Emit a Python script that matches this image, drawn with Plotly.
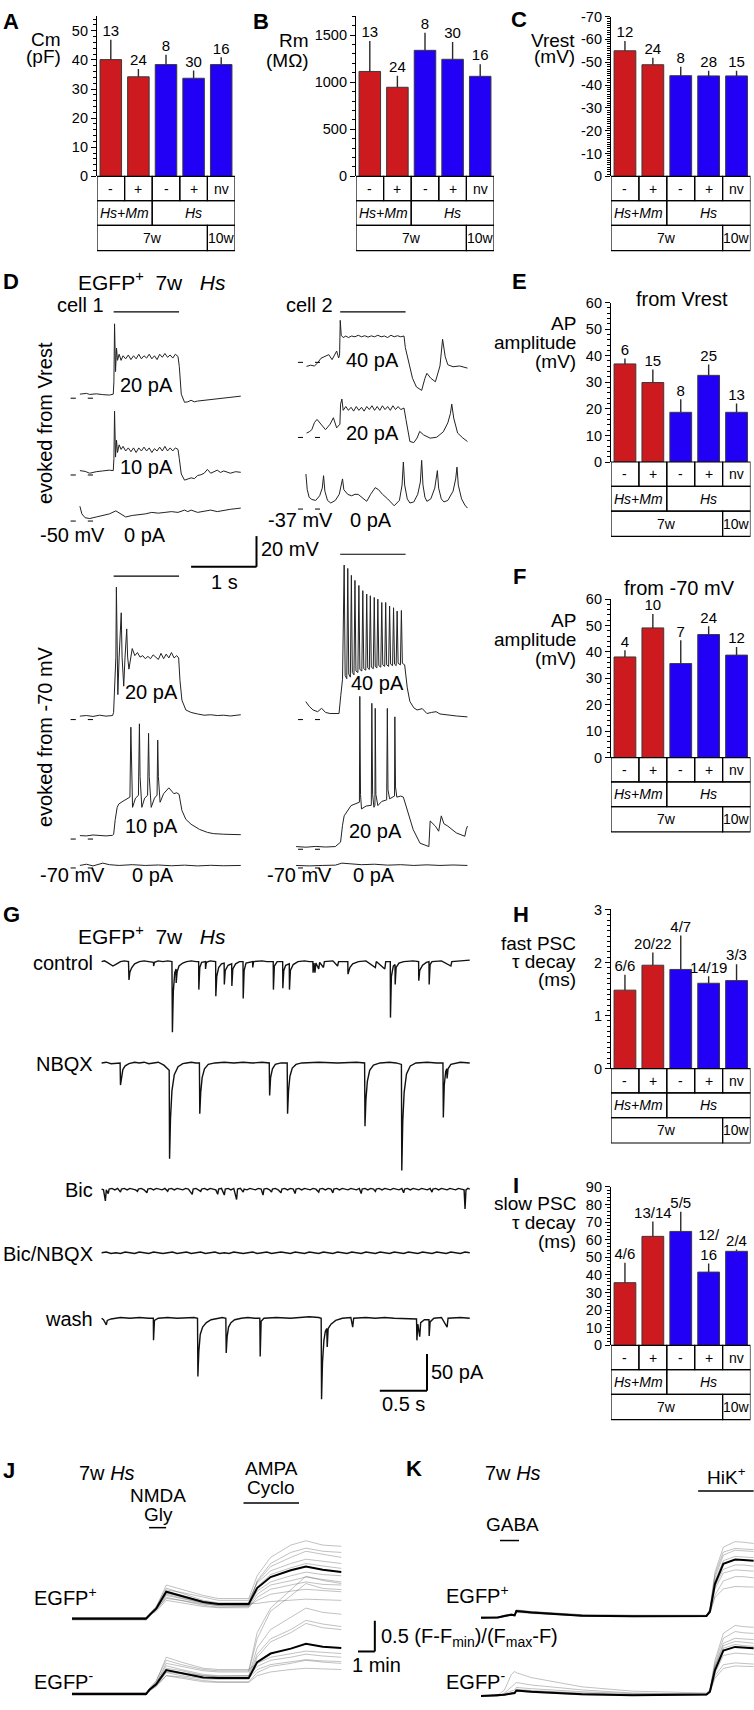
import plotly.graph_objects as go

W, H = 754, 1710
FONT = "Liberation Sans, Arial, sans-serif"

# ---------------- bar panels ----------------
GROUP_SIGN = ["-", "+", "-", "+", "nv"]
SPECIES = ["<i>Hs+Mm</i>", "<i>Hs</i>"]
SPECIES_SPAN = [2, 3]
AGE = ["7w", "10w"]
AGE_SPAN = [4, 1]
BAR_COLORS = ["#cc1a1e", "#cc1a1e", "#2200f5", "#2200f5", "#2200f5"]

CM_MEAN = [40.1, 34.2, 38.4, 33.7, 38.4]
CM_SEM = [6.8, 2.7, 3.4, 2.7, 2.5]
CM_N = ["13", "24", "8", "30", "16"]

RM_MEAN = [1114, 946, 1338, 1243, 1062]
RM_SEM = [323, 123, 186, 183, 129]
RM_N = ["13", "24", "8", "30", "16"]

VREST_MEAN = [-55.0, -48.9, -44.1, -44.0, -44.0]
VREST_SEM = [4.3, 3.1, 3.9, 2.3, 2.3]
VREST_N = ["12", "24", "8", "28", "15"]

AP_VREST_MEAN = [36.9, 29.9, 18.7, 32.6, 18.7]
AP_VREST_SEM = [2.0, 4.9, 4.9, 4.1, 3.3]
AP_VREST_N = ["6", "15", "8", "25", "13"]

AP_70_MEAN = [38.1, 49.1, 35.6, 46.6, 38.8]
AP_70_SEM = [2.5, 5.3, 8.8, 3.1, 3.1]
AP_70_N = ["4", "10", "7", "24", "12"]

FAST_TAU_MEAN = [1.48, 1.95, 1.87, 1.61, 1.66]
FAST_TAU_SEM = [0.29, 0.24, 0.64, 0.13, 0.31]
FAST_TAU_N = ["6/6", "20/22", "4/7", "14/19", "3/3"]

SLOW_TAU_MEAN = [35.6, 61.9, 64.7, 41.6, 53.4]
SLOW_TAU_SEM = [11.3, 8.4, 11.2, 4.9, 1.0]
SLOW_TAU_N = ["4/6", "13/14", "5/5", "12/<br>16", "2/4"]

# ---------------- D: current-clamp traces, (time s, Vm mV) ----------------
CELL1_VREST_20PA = [
    (0.00, -48.0), (0.10, -47.5), (0.15, -48.2), (0.25, -47.8), (0.35, -48.3), (0.45, -48.6), (0.51, -48.0),
    (0.52, -40.0), (0.53, -2.2), (0.545, -33.3), (0.56, -18.0), (0.575, -26.0), (0.60, -22.0), (0.63, -26.0),
    (0.66, -23.0), (0.70, -25.0), (0.74, -22.5), (0.78, -25.5), (0.82, -23.0), (0.86, -25.0), (0.90, -22.0),
    (0.94, -25.0), (0.98, -23.0), (1.02, -24.5), (1.06, -22.0), (1.10, -25.0), (1.14, -23.0), (1.18, -25.5),
    (1.22, -22.0), (1.26, -24.0), (1.30, -21.5), (1.34, -24.0), (1.38, -22.5), (1.42, -24.5), (1.46, -22.0),
    (1.50, -23.5), (1.52, -30.0), (1.55, -48.0), (1.60, -53.3), (1.65, -53.0), (1.70, -52.0), (1.75, -53.0),
    (1.80, -52.5), (1.90, -52.0), (2.00, -51.8), (2.10, -51.2), (2.20, -50.8), (2.30, -50.2), (2.40, -49.6),
    (2.46, -49.3)]
CELL1_VREST_10PA = [
    (0.00, -47.8), (0.08, -48.3), (0.15, -49.5), (0.25, -48.5), (0.35, -48.0), (0.45, -47.5), (0.51, -47.8),
    (0.52, -40.0), (0.53, -9.0), (0.545, -39.0), (0.56, -28.0), (0.575, -36.0), (0.60, -31.0), (0.63, -34.0),
    (0.66, -32.0), (0.70, -35.0), (0.74, -33.0), (0.78, -35.5), (0.82, -33.0), (0.86, -36.0), (0.90, -33.0),
    (0.94, -35.0), (0.98, -32.5), (1.02, -35.0), (1.06, -33.0), (1.10, -36.0), (1.14, -33.5), (1.18, -35.0),
    (1.22, -32.5), (1.26, -35.0), (1.30, -32.0), (1.34, -35.0), (1.38, -33.0), (1.42, -35.0), (1.46, -33.0),
    (1.50, -34.0), (1.52, -40.0), (1.55, -50.0), (1.60, -54.0), (1.65, -53.5), (1.70, -52.5), (1.75, -53.0),
    (1.80, -51.0), (1.85, -50.5), (1.90, -49.5), (1.95, -47.0), (2.00, -49.5), (2.05, -48.5), (2.10, -47.5),
    (2.15, -49.0), (2.20, -48.0), (2.30, -49.5), (2.38, -48.5), (2.46, -48.9)]
CELL1_VREST_0PA = [
    (0.00, -41.0), (0.03, -46.0), (0.08, -48.5), (0.15, -49.0), (0.25, -48.0), (0.35, -47.0), (0.45, -46.0),
    (0.55, -44.0), (0.60, -45.5), (0.65, -47.0), (0.70, -48.0), (0.80, -47.0), (0.90, -46.5), (1.00, -46.0),
    (1.10, -45.0), (1.20, -45.5), (1.30, -45.0), (1.40, -44.5), (1.50, -45.0), (1.60, -43.5), (1.65, -44.5),
    (1.70, -43.5), (1.80, -45.0), (1.90, -44.0), (2.00, -43.5), (2.10, -44.5), (2.20, -43.5), (2.30, -43.0),
    (2.40, -42.5), (2.46, -42.2)]
CELL2_VREST_40PA = [
    (0.16, -40.3), (0.22, -39.5), (0.28, -40.0), (0.33, -38.0), (0.38, -35.0), (0.45, -33.5), (0.50, -32.6),
    (0.55, -35.9), (0.59, -32.0), (0.62, -30.3), (0.65, -34.8), (0.665, -33.0), (0.675, -10.3), (0.69, -20.0),
    (0.72, -21.5), (0.76, -20.5), (0.80, -21.5), (0.85, -20.5), (0.90, -21.0), (0.95, -20.0), (1.00, -21.0),
    (1.05, -20.3), (1.10, -21.2), (1.15, -20.4), (1.20, -21.0), (1.25, -20.0), (1.30, -21.0), (1.35, -20.5),
    (1.40, -21.5), (1.45, -20.0), (1.50, -21.0), (1.55, -20.3), (1.60, -21.0), (1.65, -20.5), (1.67, -28.0),
    (1.72, -38.0), (1.78, -48.0), (1.84, -53.7), (1.92, -55.9), (1.97, -48.0), (2.00, -44.8), (2.06, -48.0),
    (2.13, -50.3), (2.20, -40.0), (2.24, -22.6), (2.28, -34.0), (2.32, -39.2), (2.40, -40.5), (2.50, -40.0),
    (2.62, -41.4)]
CELL2_VREST_20PA = [
    (0.16, -34.8), (0.20, -34.0), (0.24, -32.6), (0.28, -28.0), (0.32, -25.9), (0.38, -29.0), (0.45, -32.6),
    (0.52, -29.0), (0.57, -24.8), (0.62, -31.4), (0.67, -29.0), (0.68, -16.0), (0.70, -12.6), (0.72, -20.0),
    (0.76, -17.5), (0.80, -20.0), (0.84, -18.0), (0.88, -20.5), (0.92, -17.5), (0.96, -20.0), (1.00, -18.0),
    (1.04, -20.5), (1.08, -17.5), (1.12, -19.5), (1.16, -17.0), (1.20, -20.0), (1.24, -17.5), (1.28, -20.0),
    (1.32, -17.0), (1.36, -19.5), (1.40, -17.5), (1.44, -20.0), (1.48, -17.0), (1.52, -19.5), (1.56, -17.5),
    (1.60, -19.5), (1.65, -18.5), (1.68, -26.0), (1.74, -40.3), (1.80, -41.0), (1.85, -38.0), (1.89, -33.7),
    (1.95, -36.0), (2.05, -38.1), (2.15, -37.5), (2.25, -34.0), (2.32, -28.1), (2.36, -22.0), (2.38, -15.9),
    (2.41, -25.0), (2.47, -34.8), (2.55, -38.0), (2.62, -40.3)]
CELL2_VREST_0PA = [
    (0.15, -14.8), (0.17, -25.0), (0.20, -30.0), (0.24, -31.4), (0.30, -32.0), (0.36, -29.0), (0.40, -24.0),
    (0.42, -15.9), (0.44, -26.0), (0.48, -32.0), (0.53, -33.7), (0.60, -32.0), (0.66, -28.0), (0.69, -22.0),
    (0.71, -18.0), (0.73, -25.0), (0.79, -28.1), (0.85, -29.0), (0.90, -28.0), (0.95, -28.1), (1.00, -30.0),
    (1.08, -32.6), (1.14, -28.0), (1.21, -23.7), (1.26, -25.0), (1.32, -28.0), (1.40, -31.0), (1.50, -35.5),
    (1.58, -32.0), (1.62, -22.0), (1.64, -7.0), (1.66, -22.0), (1.70, -31.0), (1.74, -33.7), (1.80, -33.0),
    (1.86, -28.0), (1.90, -20.0), (1.92, -5.9), (1.94, -22.0), (1.97, -30.0), (2.00, -32.6), (2.06, -31.0),
    (2.12, -24.0), (2.16, -12.6), (2.18, -24.0), (2.22, -31.0), (2.26, -33.0), (2.32, -32.0), (2.40, -26.0),
    (2.44, -18.0), (2.46, -10.3), (2.48, -22.0), (2.53, -31.0), (2.58, -35.0), (2.62, -37.0)]
CELL1_70_20PA = [
    (0.00, -68.4), (0.10, -68.0), (0.20, -68.6), (0.30, -67.8), (0.40, -68.4), (0.50, -68.0), (0.515, -66.0),
    (0.53, -50.0), (0.55, -30.0), (0.558, 15.6), (0.57, -25.0), (0.58, -54.4), (0.60, -30.0), (0.632, -1.1),
    (0.645, -30.0), (0.67, -48.9), (0.69, -30.0), (0.716, -11.6), (0.73, -30.0), (0.75, -37.8), (0.80, -24.4),
    (0.84, -29.0), (0.88, -27.0), (0.92, -30.0), (0.96, -29.0), (1.00, -31.0), (1.04, -29.5), (1.08, -31.0),
    (1.12, -28.5), (1.16, -30.0), (1.20, -31.5), (1.24, -27.5), (1.28, -31.0), (1.32, -28.0), (1.36, -30.5),
    (1.40, -27.0), (1.44, -30.5), (1.48, -29.0), (1.51, -30.5), (1.53, -45.0), (1.56, -58.0), (1.62, -64.4),
    (1.70, -66.0), (1.80, -67.0), (1.90, -67.8), (2.00, -67.5), (2.10, -68.0), (2.20, -67.8), (2.30, -68.3),
    (2.40, -67.8), (2.46, -67.5)]
CELL1_70_10PA = [
    (0.00, -68.4), (0.10, -68.6), (0.20, -68.0), (0.30, -68.3), (0.40, -68.6), (0.50, -68.2), (0.516, -67.5),
    (0.54, -58.0), (0.57, -50.0), (0.595, -47.8), (0.635, -46.5), (0.674, -45.6), (0.72, -44.5), (0.765, -43.3),
    (0.779, 2.2), (0.79, -30.0), (0.805, -50.0), (0.85, -44.0), (0.895, -42.2), (0.91, 4.4), (0.92, -30.0),
    (0.947, -50.0), (0.99, -44.0), (1.035, -42.2), (1.05, -1.8), (1.06, -30.0), (1.09, -50.0), (1.14, -44.0),
    (1.18, -42.0), (1.19, -6.2), (1.20, -30.0), (1.226, -46.7), (1.28, -41.1), (1.36, -37.3), (1.40, -39.5),
    (1.437, -41.1), (1.48, -40.5), (1.516, -41.5), (1.56, -52.0), (1.62, -57.8), (1.70, -61.0), (1.83, -64.4),
    (1.95, -66.3), (2.04, -67.1), (2.20, -67.5), (2.35, -67.8), (2.46, -67.8)]
CELL1_70_0PA = [
    (0.00, -69.0), (0.10, -68.2), (0.20, -69.3), (0.30, -68.0), (0.35, -67.5), (0.45, -68.5), (0.60, -69.0),
    (0.80, -68.5), (1.00, -69.0), (1.20, -68.7), (1.40, -69.2), (1.60, -68.8), (1.80, -69.3), (2.00, -68.9),
    (2.20, -69.2), (2.46, -69.0)]
CELL2_70_40PA = [
    (0.147, -58.9), (0.20, -62.0), (0.26, -64.4), (0.33, -65.5), (0.39, -63.3), (0.45, -66.0), (0.52, -66.7),
    (0.60, -66.7), (0.656, -66.7), (0.683, -55.0), (0.71, -44.4), (0.735, 30.0), (0.75, -42.0), (0.775, -44.0),
    (0.79, 27.8), (0.805, -41.0), (0.83, -43.0), (0.845, 23.3), (0.86, -40.0), (0.885, -41.5), (0.90, 20.0),
    (0.915, -39.0), (0.945, -40.0), (0.96, 16.7), (0.975, -38.0), (1.005, -39.0), (1.02, 13.3), (1.035, -37.5),
    (1.065, -38.5), (1.08, 11.1), (1.095, -37.0), (1.12, -38.0), (1.135, 10.0), (1.15, -36.5), (1.18, -37.5),
    (1.195, 8.9), (1.21, -36.0), (1.235, -37.0), (1.25, 7.8), (1.265, -35.5), (1.295, -36.5), (1.31, 5.6),
    (1.325, -35.0), (1.355, -36.0), (1.37, 5.6), (1.385, -35.0), (1.415, -36.0), (1.43, 3.3), (1.445, -34.5),
    (1.475, -35.5), (1.49, 2.2), (1.505, -34.5), (1.53, -35.5), (1.545, 0.0), (1.56, -34.0), (1.595, -35.0),
    (1.61, 0.4), (1.625, -34.0), (1.66, -35.0), (1.70, -50.0), (1.74, -58.9), (1.80, -63.0), (1.85, -64.4),
    (1.93, -63.5), (2.00, -66.7), (2.07, -66.0), (2.14, -65.5), (2.20, -67.0), (2.32, -67.8), (2.45, -68.3),
    (2.62, -68.9)]
CELL2_70_20PA = [
    (0.00, -68.9), (0.15, -69.3), (0.30, -68.8), (0.45, -69.2), (0.60, -68.9), (0.68, -66.0), (0.71, -55.0),
    (0.735, -48.9), (0.84, -42.2), (0.95, -40.0), (0.968, -40.0), (0.974, 28.9), (0.985, -35.0), (1.00, -44.4),
    (1.07, -42.5), (1.15, -42.0), (1.158, 24.4), (1.17, -35.0), (1.19, -43.3), (1.205, -42.0), (1.21, 21.1),
    (1.22, -35.0), (1.25, -42.2), (1.31, -39.5), (1.385, -38.5), (1.395, 21.1), (1.405, -32.0), (1.43, -37.8),
    (1.48, -36.5), (1.505, -36.0), (1.51, 15.6), (1.52, -30.0), (1.54, -36.7), (1.60, -36.0), (1.64, -36.7),
    (1.71, -46.7), (1.79, -57.8), (1.895, -66.7), (2.03, -68.9), (2.05, -52.2), (2.10, -54.0), (2.13, -55.6),
    (2.18, -58.9), (2.20, -55.0), (2.22, -48.9), (2.26, -54.0), (2.32, -55.6), (2.45, -60.0), (2.58, -62.2),
    (2.60, -58.0), (2.62, -55.6)]
CELL2_70_0PA = [
    (0.00, -69.0), (0.20, -69.3), (0.40, -69.0), (0.60, -68.8), (0.70, -67.5), (0.80, -68.0), (1.00, -68.5),
    (1.20, -68.2), (1.40, -68.8), (1.60, -68.5), (1.80, -69.0), (2.00, -68.6), (2.20, -69.0), (2.40, -68.7),
    (2.62, -69.0)]

# ---------------- G: voltage-clamp traces, (time s, current pA) ----------------
G_CONTROL = [
    (0.00, 0), (0.03, 1), (0.06, -1), (0.09, -4), (0.12, -6), (0.16, -3), (0.20, 0), (0.24, 1), (0.285, 0),
    (0.29, -25), (0.30, -14), (0.32, -8), (0.35, -3), (0.40, 0), (0.45, 1), (0.50, 0), (0.55, -1), (0.551, -6),
    (0.56, -1), (0.60, 1), (0.65, 0), (0.70, 1), (0.745, 0), (0.75, -96), (0.76, -40), (0.775, -15), (0.789, -10),
    (0.79, -29), (0.80, -14), (0.82, -6), (0.86, -2), (0.90, 0), (0.95, 1), (1.00, 0), (1.028, 0), (1.03, -38),
    (1.04, -8), (1.06, -1), (1.10, 0), (1.101, -10), (1.11, -1), (1.15, 1), (1.208, 0), (1.21, -47), (1.22, -20),
    (1.24, -8), (1.27, -3), (1.298, -2), (1.30, -31), (1.31, -12), (1.34, -5), (1.378, -3), (1.38, -33),
    (1.39, -10), (1.42, -3), (1.46, 0), (1.498, 0), (1.50, -50), (1.51, -12), (1.53, -2), (1.60, 0), (1.601, -8),
    (1.61, 0), (1.70, 1), (1.75, 0), (1.818, 0), (1.82, -38), (1.83, -6), (1.86, 0), (1.918, 0), (1.92, -36),
    (1.93, -12), (1.95, -5), (1.988, -3), (1.99, -38), (2.00, -12), (2.03, -4), (2.08, 0), (2.15, 1), (2.20, 0),
    (2.238, 0), (2.24, -15), (2.25, -2), (2.26, -15), (2.27, -2), (2.30, -10), (2.31, -1), (2.35, -8), (2.36, 0),
    (2.45, 1), (2.50, -6), (2.51, 0), (2.608, 0), (2.61, -17), (2.63, -8), (2.66, -3), (2.72, 0), (2.80, 1),
    (2.90, -8), (2.91, 0), (3.00, -10), (3.01, 0), (3.058, 0), (3.06, -76), (3.07, -20), (3.09, -6), (3.108, -4),
    (3.11, -31), (3.12, -8), (3.15, -2), (3.20, 0), (3.30, 1), (3.358, 0), (3.36, -26), (3.37, -12), (3.40, -5),
    (3.44, -1), (3.468, 0), (3.47, -31), (3.48, -4), (3.50, 0), (3.60, 1), (3.70, -6), (3.71, 0), (3.80, 1),
    (3.90, 2)]
G_NBQX = [
    (0.00, 0), (0.05, 1), (0.10, -1), (0.15, 0), (0.196, 0), (0.20, -30), (0.21, -18), (0.225, -9), (0.25, -4),
    (0.29, -1), (0.35, 1), (0.40, 0), (0.45, 1), (0.50, -1), (0.55, 0), (0.60, 1), (0.66, -3), (0.70, -8),
    (0.716, -10), (0.72, -130), (0.73, -75), (0.745, -38), (0.77, -16), (0.81, -5), (0.86, -1), (0.90, 0),
    (0.95, 1), (1.00, 0), (1.036, 0), (1.04, -69), (1.05, -40), (1.065, -20), (1.09, -8), (1.13, -2), (1.20, 0),
    (1.30, 1), (1.40, 0), (1.50, 1), (1.60, 0), (1.70, 1), (1.776, 0), (1.78, -44), (1.79, -20), (1.81, -8),
    (1.84, -2), (1.90, 0), (1.966, 0), (1.97, -69), (1.98, -38), (1.995, -18), (2.02, -7), (2.06, -2), (2.12, 0),
    (2.30, 1), (2.50, 0), (2.70, 1), (2.786, 0), (2.79, -86), (2.80, -50), (2.815, -25), (2.84, -10), (2.88, -3),
    (2.95, 0), (3.05, 1), (3.12, 0), (3.176, -2), (3.18, -146), (3.19, -80), (3.205, -40), (3.23, -15),
    (3.27, -4), (3.33, 0), (3.45, 1), (3.55, 0), (3.616, 0), (3.62, -74), (3.63, -30), (3.645, -12),
    (3.656, -8), (3.66, -21), (3.67, -8), (3.70, -2), (3.75, 0), (3.80, 1), (3.90, 0)]
G_BIC = [
    (0.00, 0), (0.02, -1), (0.04, -16), (0.05, -1), (0.07, -6), (0.08, 0), (0.11, 1), (0.14, -1), (0.17, 1),
    (0.20, -4), (0.21, 0), (0.24, 1), (0.27, -1), (0.30, 1), (0.33, 0), (0.36, -1), (0.38, -3), (0.39, 0),
    (0.42, 1), (0.45, -1), (0.48, -5), (0.49, 0), (0.52, 1), (0.55, -1), (0.58, 1), (0.61, 0), (0.64, -1),
    (0.67, 1), (0.70, -3), (0.71, 0), (0.74, 1), (0.77, -1), (0.80, 1), (0.83, 0), (0.86, -1), (0.89, 1),
    (0.92, 0), (0.96, -7), (0.97, 0), (1.00, 1), (1.02, -1), (1.05, -3), (1.06, 0), (1.09, 1), (1.12, -1),
    (1.15, 1), (1.18, 0), (1.21, -1), (1.23, -7), (1.24, 0), (1.27, 1), (1.30, -8), (1.31, 0), (1.34, 1),
    (1.37, -1), (1.40, 1), (1.43, -14), (1.44, 0), (1.47, 1), (1.50, -4), (1.51, 0), (1.54, -1), (1.57, 1),
    (1.60, 0), (1.63, -1), (1.66, 1), (1.69, 0), (1.71, -8), (1.72, 0), (1.75, 1), (1.78, -1), (1.80, -4),
    (1.81, 0), (1.84, 1), (1.87, -1), (1.90, -5), (1.91, 0), (1.94, 1), (1.97, -1), (2.00, 1), (2.03, 0),
    (2.05, -6), (2.06, 0), (2.09, 1), (2.12, -1), (2.15, 1), (2.18, 0), (2.21, -1), (2.24, 1), (2.27, 0),
    (2.30, -4), (2.31, 0), (2.34, 1), (2.37, -1), (2.40, 1), (2.43, 0), (2.45, -5), (2.46, 0), (2.49, 1),
    (2.52, -1), (2.55, 1), (2.58, 0), (2.61, -1), (2.64, 1), (2.67, 0), (2.70, -1), (2.73, 1), (2.75, -6),
    (2.76, 0), (2.79, 1), (2.82, -1), (2.85, 1), (2.88, 0), (2.90, -3), (2.91, 0), (2.94, 1), (2.97, -1),
    (3.00, 1), (3.03, 0), (3.06, -1), (3.09, 1), (3.12, 0), (3.15, -1), (3.18, 1), (3.20, -5), (3.21, 0),
    (3.24, 1), (3.27, -1), (3.30, 1), (3.33, 0), (3.36, -1), (3.39, 1), (3.42, 0), (3.45, -1), (3.48, 1),
    (3.50, -4), (3.51, 0), (3.54, 1), (3.57, -1), (3.60, 1), (3.63, 0), (3.66, -1), (3.69, 1), (3.72, 0),
    (3.75, -1), (3.78, 1), (3.81, 0), (3.84, -1), (3.85, -27), (3.86, -1), (3.88, 1), (3.90, 0)]
G_BIC_NBQX = [
    (0.00, 0), (0.05, 1), (0.10, -1), (0.15, 0), (0.20, -1), (0.25, 1), (0.30, 0), (0.35, -1), (0.40, 1),
    (0.45, 0), (0.50, -1), (0.55, 1), (0.60, 0), (0.65, -1), (0.70, 0), (0.75, 1), (0.80, -1), (0.85, 0),
    (0.90, 1), (0.95, -1), (1.00, 0), (1.05, 1), (1.10, -1), (1.15, 0), (1.20, 1), (1.25, -1), (1.30, 0),
    (1.35, -1), (1.40, 1), (1.45, 0), (1.50, -1), (1.55, 0), (1.60, 1), (1.65, -1), (1.70, 0), (1.75, 1),
    (1.80, -1), (1.85, 0), (1.90, 1), (1.95, 0), (2.00, -1), (2.05, 1), (2.10, 0), (2.15, -1), (2.20, 1),
    (2.25, 0), (2.30, -1), (2.35, 1), (2.40, 0), (2.45, -1), (2.50, 1), (2.55, 0), (2.60, -1), (2.65, 1),
    (2.70, 0), (2.75, -1), (2.80, 1), (2.85, 0), (2.90, -1), (2.95, 1), (3.00, 0), (3.05, -1), (3.10, 1),
    (3.15, 0), (3.20, -1), (3.25, 1), (3.30, 0), (3.35, -1), (3.40, 1), (3.45, 0), (3.50, -1), (3.55, 1),
    (3.60, 0), (3.65, -1), (3.70, 1), (3.75, 0), (3.80, -1), (3.85, 1), (3.90, 0)]
G_WASH = [
    (0.00, 0), (0.02, -2), (0.05, -9), (0.06, -3), (0.10, -1), (0.20, 1), (0.30, 0), (0.40, 1), (0.50, 0),
    (0.548, 0), (0.55, -30), (0.56, -3), (0.60, 0), (0.70, 1), (0.80, 0), (0.90, 1), (0.98, 1), (1.016, 0),
    (1.02, -79), (1.03, -45), (1.045, -22), (1.07, -12), (1.11, -6), (1.16, -2), (1.22, 0), (1.28, 1),
    (1.316, 0), (1.32, -47), (1.33, -25), (1.345, -12), (1.37, -6), (1.41, -2), (1.48, 0), (1.55, 1), (1.62, 0),
    (1.676, 0), (1.68, -52), (1.69, -4), (1.72, 0), (1.85, 1), (2.00, 0), (2.10, 1), (2.20, 2), (2.30, 1),
    (2.326, 0), (2.33, -110), (2.34, -60), (2.355, -30), (2.37, -18), (2.385, -14), (2.39, -39), (2.40, -14),
    (2.43, -8), (2.48, -3), (2.55, 0), (2.64, 1), (2.66, -12), (2.67, 0), (2.80, 1), (2.90, 0), (3.00, 1),
    (3.10, 0), (3.20, 0), (3.30, -1), (3.336, -1), (3.34, -30), (3.35, -8), (3.37, -25), (3.38, -6), (3.42, -2),
    (3.468, -2), (3.47, -24), (3.48, -5), (3.52, 0), (3.60, 1), (3.66, -12), (3.67, 0), (3.80, 1), (3.90, 0)]

# ---------------- J / K: calcium imaging, time (min) and (F-Fmin)/(Fmax-F) ----------------
J_T = [0, 4.4, 4.6, 4.75, 5.0, 5.6, 6.5, 7.8, 8.7, 10.5, 11.0, 11.8, 13.0, 13.9, 14.9, 16.0]
J_POS_MEAN = [0, 0, 0.06, 0.105, 0.165, 0.44, 0.37, 0.275, 0.24, 0.24, 0.5, 0.68, 0.79, 0.85, 0.8, 0.76]
J_POS_CELLS = [
    [0.02, 0.02, 0.08, 0.13, 0.20, 0.50, 0.42, 0.30, 0.26, 0.26, 0.60, 0.85, 1.00, 1.10, 1.05, 1.00],
    [-0.02, -0.02, 0.03, 0.08, 0.12, 0.30, 0.26, 0.20, 0.18, 0.18, 0.35, 0.48, 0.55, 0.60, 0.56, 0.55],
    [0.01, 0.01, 0.07, 0.12, 0.18, 0.55, 0.48, 0.38, 0.33, 0.33, 0.70, 1.00, 1.20, 1.27, 1.20, 1.18],
    [0, 0, 0.05, 0.09, 0.14, 0.35, 0.30, 0.22, 0.19, 0.20, 0.40, 0.55, 0.62, 0.68, 0.64, 0.60],
    [0.01, 0.01, 0.06, 0.11, 0.17, 0.45, 0.38, 0.28, 0.24, 0.24, 0.52, 0.72, 0.83, 0.90, 0.86, 0.82],
    [-0.01, -0.01, 0.04, 0.10, 0.15, 0.38, 0.33, 0.25, 0.21, 0.21, 0.30, 0.40, 0.45, 0.48, 0.46, 0.44],
    [0.02, 0.02, 0.07, 0.12, 0.18, 0.47, 0.43, 0.36, 0.30, 0.30, 0.58, 0.78, 0.90, 0.97, 0.94, 0.90],
    [0, 0, 0.05, 0.10, 0.16, 0.40, 0.34, 0.26, 0.22, 0.22, 0.45, 0.60, 0.70, 0.76, 0.72, 0.70],
    [0.01, 0.01, 0.06, 0.10, 0.15, 0.33, 0.30, 0.24, 0.22, 0.22, 0.62, 0.90, 1.08, 1.15, 1.10, 1.08],
    [0, 0, 0.05, 0.09, 0.15, 0.42, 0.36, 0.27, 0.23, 0.24, 0.25, 0.28, 0.30, 0.32, 0.31, 0.30]]
J_NEG_MEAN = [0, 0, 0.07, 0.11, 0.16, 0.39, 0.34, 0.27, 0.26, 0.26, 0.52, 0.66, 0.74, 0.82, 0.77, 0.75]
J_NEG_CELLS = [
    [0, 0, 0.08, 0.12, 0.18, 0.50, 0.45, 0.38, 0.36, 0.36, 0.90, 1.35, 1.60, 1.80, 1.72, 1.70],
    [0.02, 0.02, 0.06, 0.10, 0.14, 0.30, 0.28, 0.22, 0.20, 0.20, 0.35, 0.45, 0.50, 0.55, 0.52, 0.50],
    [-0.02, -0.02, 0.05, 0.09, 0.13, 0.35, 0.30, 0.25, 0.24, 0.24, 0.60, 0.85, 1.00, 1.15, 1.08, 1.05],
    [0.01, 0.01, 0.07, 0.12, 0.17, 0.46, 0.40, 0.32, 0.30, 0.30, 0.45, 0.55, 0.60, 0.65, 0.62, 0.60],
    [0, 0, 0.06, 0.10, 0.15, 0.38, 0.35, 0.30, 0.29, 0.30, 0.75, 1.05, 1.25, 1.40, 1.33, 1.30],
    [0.01, 0.01, 0.08, 0.13, 0.20, 0.60, 0.52, 0.42, 0.40, 0.40, 0.50, 0.60, 0.66, 0.70, 0.68, 0.66],
    [-0.01, -0.01, 0.05, 0.08, 0.12, 0.30, 0.26, 0.20, 0.19, 0.19, 0.30, 0.36, 0.40, 0.42, 0.41, 0.40],
    [0, 0, 0.07, 0.11, 0.16, 0.42, 0.38, 0.30, 0.28, 0.28, 0.65, 0.90, 1.05, 1.20, 1.14, 1.10],
    [0.02, 0.02, 0.09, 0.14, 0.22, 0.55, 0.48, 0.40, 0.38, 0.38, 1.00, 1.40, 1.70, 1.92, 1.85, 1.80],
    [0, 0, 0.06, 0.10, 0.15, 0.36, 0.33, 0.27, 0.26, 0.26, 0.40, 0.48, 0.52, 0.56, 0.54, 0.53]]
K_T = [0, 1.0, 1.4, 1.8, 2.0, 2.1, 3.0, 6.0, 9.0, 13.4, 13.6, 13.9, 14.4, 15.1, 15.6, 16.2]
K_POS_MEAN = [0, 0.005, 0.03, 0.05, 0.04, 0.11, 0.085, 0.035, 0.025, 0.03, 0.10, 0.55, 0.88, 0.95, 0.94, 0.93]
K_POS_CELLS = [
    [0, 0.01, 0.04, 0.06, 0.05, 0.12, 0.10, 0.05, 0.04, 0.04, 0.14, 0.74, 1.15, 1.24, 1.23, 1.21],
    [0.01, 0.01, 0.03, 0.04, 0.04, 0.10, 0.08, 0.03, 0.02, 0.03, 0.08, 0.33, 0.47, 0.51, 0.51, 0.50],
    [-0.01, 0, 0.02, 0.05, 0.04, 0.12, 0.09, 0.04, 0.03, 0.03, 0.11, 0.65, 1.02, 1.10, 1.09, 1.08],
    [0, 0, 0.03, 0.05, 0.04, 0.10, 0.08, 0.03, 0.02, 0.02, 0.09, 0.51, 0.79, 0.86, 0.86, 0.84],
    [0.01, 0.01, 0.04, 0.06, 0.05, 0.13, 0.10, 0.04, 0.03, 0.03, 0.08, 0.47, 0.73, 0.78, 0.77, 0.76],
    [0, 0, 0.02, 0.04, 0.03, 0.09, 0.07, 0.03, 0.02, 0.02, 0.10, 0.60, 0.93, 1.00, 0.99, 0.98],
    [0, 0.01, 0.03, 0.05, 0.04, 0.11, 0.09, 0.04, 0.03, 0.03, 0.07, 0.37, 0.60, 0.67, 0.67, 0.65],
    [0.01, 0.01, 0.04, 0.06, 0.05, 0.12, 0.10, 0.05, 0.04, 0.04, 0.12, 0.70, 1.07, 1.13, 1.12, 1.11]]
K_NEG_MEAN = [0, 0.01, 0.02, 0.04, 0.05, 0.09, 0.07, 0.03, 0.015, 0.025, 0.07, 0.42, 0.74, 0.80, 0.79, 0.78]
K_NEG_CELLS = [
    [0, 0.01, 0.10, 0.35, 0.40, 0.38, 0.30, 0.15, 0.08, 0.05, 0.10, 0.58, 1.02, 1.15, 1.13, 1.12],
    [0.01, 0.01, 0.03, 0.05, 0.06, 0.10, 0.08, 0.04, 0.02, 0.03, 0.07, 0.33, 0.51, 0.54, 0.53, 0.52],
    [0, 0, 0.02, 0.04, 0.05, 0.08, 0.07, 0.03, 0.02, 0.02, 0.08, 0.49, 0.86, 0.94, 0.93, 0.92],
    [-0.01, 0, 0.05, 0.15, 0.20, 0.22, 0.18, 0.10, 0.05, 0.03, 0.06, 0.37, 0.66, 0.70, 0.69, 0.68],
    [0, 0.01, 0.02, 0.03, 0.04, 0.08, 0.06, 0.02, 0.01, 0.02, 0.07, 0.45, 0.78, 0.84, 0.82, 0.81],
    [0.01, 0.01, 0.03, 0.05, 0.06, 0.11, 0.09, 0.05, 0.03, 0.04, 0.09, 0.53, 0.94, 1.05, 1.03, 1.02],
    [0, 0, 0.02, 0.04, 0.05, 0.09, 0.07, 0.03, 0.02, 0.02, 0.05, 0.29, 0.45, 0.49, 0.49, 0.48],
    [0, 0.01, 0.04, 0.08, 0.10, 0.14, 0.12, 0.07, 0.04, 0.03, 0.08, 0.48, 0.82, 0.89, 0.88, 0.86]]

# =====================================================================
fig = go.Figure()
shapes = []
annotations = []
LBL = 20


def ids(n):
    s = "" if n == 1 else str(n)
    return "x" + s, "y" + s, "xaxis" + s, "yaxis" + s


def px_x(x):
    return x / W


def px_y(y):
    return 1 - y / H


def text(x, y, s, size=LBL, xanchor="center", angle=0, xref="paper"):
    annotations.append(dict(
        x=x if xref != "paper" else px_x(x), y=px_y(y), xref=xref, yref="paper", text=s,
        showarrow=False, xanchor=xanchor, yanchor="middle", textangle=angle, borderpad=0,
        font=dict(size=size, color="black", family=FONT)))


def line_paper(x0, y0, x1, y1, w=1.2):
    shapes.append(dict(type="line", xref="paper", yref="paper", x0=px_x(x0), x1=px_x(x1),
                       y0=px_y(y0), y1=px_y(y1), line=dict(color="black", width=w)))


def line_data(xa, ya, x0, y0, x1, y1, w=1.2):
    shapes.append(dict(type="line", xref=xa, yref=ya, x0=x0, x1=x1, y0=y0, y1=y1,
                       line=dict(color="black", width=w)))


# ---------------- bar panels ----------------
BAR_LAYOUT = [
    dict(n=1, data=(CM_MEAN, CM_SEM, CM_N), left=97, right=235, zero=170, top=8.3, rng=[0, 55],
         ticks=[0, 10, 20, 30, 40, 50], minor=2, label=["Cm", "(pF)"], lx=62, ly=[31.7, 49.3],
         letter="A", letpos=(2, 14)),
    dict(n=2, data=(RM_MEAN, RM_SEM, RM_N), left=356, right=494, zero=170, top=8.3, rng=[0, 1700],
         ticks=[0, 500, 1000, 1500], minor=100, label=["Rm", "(M\u03a9)"], lx=310, ly=[33.3, 53.3],
         letter="B", letpos=(252, 14)),
    dict(n=3, data=(VREST_MEAN, VREST_SEM, VREST_N), left=611, right=750.5, zero=170, top=8.6, rng=[0, -70],
         ticks=[0, -10, -20, -30, -40, -50, -60, -70], minor=2, label=["Vrest", "(mV)"], lx=576,
         ly=[33, 49], letter="C", letpos=(510, 12)),
    dict(n=4, data=(AP_VREST_MEAN, AP_VREST_SEM, AP_VREST_N), left=611, right=750.5, zero=458.3, top=297.3,
         rng=[0, 60], ticks=[0, 10, 20, 30, 40, 50, 60], minor=2, label=["AP", "amplitude", "(mV)"], lx=577,
         ly=[318.3, 337.5, 356.7], letter="E", letpos=(511, 276), title=("from Vrest", 682, 294)),
    dict(n=5, data=(AP_70_MEAN, AP_70_SEM, AP_70_N), left=611, right=750.5, zero=756.7, top=596.7,
         rng=[0, 60], ticks=[0, 10, 20, 30, 40, 50, 60], minor=2, label=["AP", "amplitude", "(mV)"], lx=577,
         ly=[618.3, 637.5, 656.7], letter="F", letpos=(512, 574), title=("from -70 mV", 679, 585)),
    dict(n=6, data=(FAST_TAU_MEAN, FAST_TAU_SEM, FAST_TAU_N), left=611, right=750.5, zero=1070.7, top=910,
         rng=[0, 3], ticks=[0, 1, 2, 3], minor=0.1, label=["fast PSC", "\u03c4 decay", "(ms)"], lx=577,
         ly=[944, 963, 981], letter="H", letpos=(512, 915)),
    dict(n=7, data=(SLOW_TAU_MEAN, SLOW_TAU_SEM, SLOW_TAU_N), left=611, right=750.5, zero=1350, top=1190,
         rng=[0, 90], ticks=[0, 10, 20, 30, 40, 50, 60, 70, 80, 90], minor=2,
         label=["slow PSC", "\u03c4 decay", "(ms)"], lx=577, ly=[1207, 1226, 1245], letter="I",
         letpos=(512, 1189)),
]
ROW_EDGES = [0, 24.5, 49.5, 75]

layout_axes = {}
for p in BAR_LAYOUT:
    xa, ya, xk, yk = ids(p["n"])
    mean, sem, ns = p["data"]
    cats = list(range(len(mean)))
    neg = mean[0] < 0
    err_up = [0 if neg else s for s in sem]
    err_dn = [s if neg else 0 for s in sem]
    fig.add_trace(go.Bar(
        x=cats, y=mean, width=0.78, xaxis=xa, yaxis=ya, showlegend=False, hoverinfo="skip",
        marker=dict(color=BAR_COLORS, line=dict(color="#3a3a3a", width=1)), cliponaxis=False,
        error_y=dict(type="data", symmetric=False, array=err_up, arrayminus=err_dn, width=0,
                     thickness=1.4, color="#2a2a2a")))
    tops = [m - s if neg else m + s for m, s in zip(mean, sem)]
    fig.add_trace(go.Scatter(
        x=cats, y=tops, mode="text", text=ns, textposition="top center", xaxis=xa, yaxis=ya,
        textfont=dict(size=15, family=FONT, color="black"), showlegend=False, hoverinfo="skip",
        cliponaxis=False))
    layout_axes[xk] = dict(domain=[px_x(p["left"]), px_x(p["right"])], range=[-0.5, len(mean) - 0.5],
                           visible=False, anchor=ya, fixedrange=True)
    layout_axes[yk] = dict(
        domain=[px_y(p["zero"]), px_y(p["top"])], range=p["rng"], anchor=xa, showline=True,
        linecolor="black", linewidth=1.2, ticks="outside", ticklen=5, tickwidth=1.2, tickcolor="black",
        tickmode="array", tickvals=p["ticks"], ticktext=[str(t) for t in p["ticks"]],
        tickfont=dict(size=14.5, family=FONT, color="black"), showgrid=False, zeroline=False,
        fixedrange=True,
        minor=dict(tickmode="linear", tick0=0, dtick=p["minor"] * (-1 if neg else 1), ticks="outside",
                   ticklen=3, tickwidth=1, tickcolor="black", showgrid=False))
    # category table under the bars
    rows = [p["zero"] + r for r in ROW_EDGES]
    spans = [[(i - 0.5, i + 0.5, GROUP_SIGN[i]) for i in cats]]
    for names, widths in ((SPECIES, SPECIES_SPAN), (AGE, AGE_SPAN)):
        start, row = -0.5, []
        for nm, wd in zip(names, widths):
            row.append((start, start + wd, nm))
            start += wd
        spans.append(row)
    for r, row in enumerate(spans):
        for x0, x1, nm in row:
            shapes.append(dict(type="rect", xref=xa, yref="paper", x0=x0, x1=x1, y0=px_y(rows[r + 1]),
                               y1=px_y(rows[r]), line=dict(color="black", width=1.2)))
            text((x0 + x1) / 2, (rows[r] + rows[r + 1]) / 2, nm, size=14, xref=xa)
    for s, yy in zip(p["label"], p["ly"]):
        text(p["lx"], yy, s, size=19, xanchor="right")
    text(p["letpos"][0], p["letpos"][1], "<b>%s</b>" % p["letter"], size=22, xanchor="left")
    if "title" in p:
        t, tx, ty = p["title"]
        text(tx, ty, t)

# ---------------- D: current clamp ----------------
D_PX_PER_S, D_PX_PER_MV = 65.4, 1.55
D_TOP, D_BOT, D_RIGHT = 250, 880, 470
layout_axes["xaxis8"] = dict(domain=[0, px_x(D_RIGHT)], range=[0, D_RIGHT / D_PX_PER_S], visible=False,
                             anchor="y8", fixedrange=True)
layout_axes["yaxis8"] = dict(domain=[px_y(D_BOT), px_y(D_TOP)], range=[0, (D_BOT - D_TOP) / D_PX_PER_MV],
                             visible=False, anchor="x8", fixedrange=True)


def d_x(x):
    return x / D_PX_PER_S


def d_y(y):
    return (D_BOT - y) / D_PX_PER_MV


C1_X0, C2_X0 = 79.9, 296.1
D_LAYOUT = [
    (CELL1_VREST_20PA, -50, C1_X0, 392.9), (CELL1_VREST_10PA, -50, C1_X0, 470.4),
    (CELL1_VREST_0PA, -50, C1_X0, 516.9),
    (CELL2_VREST_40PA, -37, C2_X0, 356.7), (CELL2_VREST_20PA, -37, C2_X0, 432.5),
    (CELL2_VREST_0PA, -37, C2_X0, 504.8),
    (CELL1_70_20PA, -70, C1_X0, 717.3), (CELL1_70_10PA, -70, C1_X0, 837.9), (CELL1_70_0PA, -70, C1_X0, 867.1),
    (CELL2_70_40PA, -70, C2_X0, 717.3), (CELL2_70_20PA, -70, C2_X0, 848.2), (CELL2_70_0PA, -70, C2_X0, 867.1),
]
DASH_X = {C1_X0: [(70.6, 75.8), (87.8, 93.0)], C2_X0: [(298.0, 303.0), (315.0, 320.0)]}
for data, ref, x0, dash in D_LAYOUT:
    fig.add_trace(go.Scatter(
        x=[d_x(x0) + t for t, v in data], y=[d_y(dash) + (v - ref) for t, v in data], mode="lines",
        line=dict(color="#222", width=1), xaxis="x8", yaxis="y8", showlegend=False, hoverinfo="skip"))
    for a, b in DASH_X[x0]:
        line_paper(a, dash + 1, b, dash + 1, w=1)

STEP_ON = {C1_X0: 0.516, C2_X0: 0.674}
for x0, ybar in ((C1_X0, 306.8), (C2_X0, 306.8), (C1_X0, 573.4), (C2_X0, 551.4)):
    line_data("x8", "y8", d_x(x0) + STEP_ON[x0], d_y(ybar), d_x(x0) + STEP_ON[x0] + 1.0, d_y(ybar), w=1.2)
# scale bar: 1 s, 20 mV
SB_X, SB_Y = 191.1, 564.1
line_data("x8", "y8", d_x(SB_X), d_y(SB_Y), d_x(SB_X) + 1.0, d_y(SB_Y), w=2)
line_data("x8", "y8", d_x(SB_X) + 1.0, d_y(SB_Y), d_x(SB_X) + 1.0, d_y(SB_Y) + 20, w=2)
text(260, 546, "20 mV", xanchor="left")
text(224.7, 579, "1 s")

HDR = "EGFP<sup>+</sup>\u00a0\u00a07w\u00a0\u00a0\u00a0<i>Hs</i>"
text(2, 276, "<b>D</b>", size=22, xanchor="left")
text(77, 276, HDR, size=21, xanchor="left")
text(56, 300, "cell 1", xanchor="left")
text(285, 300, "cell 2", xanchor="left")
text(146, 381, "20 pA")
text(146, 463, "10 pA")
text(72, 532, "-50 mV")
text(145, 532, "0 pA")
text(372, 355, "40 pA")
text(372, 429, "20 pA")
text(300, 517, "-37 mV")
text(371, 517, "0 pA")
text(151, 690, "20 pA")
text(151, 826, "10 pA")
text(377, 681, "40 pA")
text(375, 831, "20 pA")
text(72, 875, "-70 mV")
text(153, 875, "0 pA")
text(299, 875, "-70 mV")
text(374, 875, "0 pA")
text(45, 419, "evoked from Vrest", angle=-90)
text(45, 736, "evoked from -70 mV", angle=-90)

# ---------------- G: spontaneous PSCs ----------------
G_PX_PER_S, G_PX_PER_PA = 94.4, 0.744
G_T0, G_TOP, G_BOT, G_RIGHT = 101.6, 900, 1420, 500
layout_axes["xaxis9"] = dict(domain=[0, px_x(G_RIGHT)], range=[-G_T0 / G_PX_PER_S, (G_RIGHT - G_T0) / G_PX_PER_S],
                             visible=False, anchor="y9", fixedrange=True)
layout_axes["yaxis9"] = dict(domain=[px_y(G_BOT), px_y(G_TOP)], range=[0, (G_BOT - G_TOP) / G_PX_PER_PA],
                             visible=False, anchor="x9", fixedrange=True)


def g_y(y):
    return (G_BOT - y) / G_PX_PER_PA


G_LAYOUT = [(G_CONTROL, "control", 962.6), (G_NBQX, "NBQX", 1064.9), (G_BIC, "Bic", 1192.3),
            (G_BIC_NBQX, "Bic/NBQX", 1256.5), (G_WASH, "wash", 1322.6)]
for data, name, base in G_LAYOUT:
    fig.add_trace(go.Scatter(
        x=[t for t, i in data], y=[g_y(base) + i for t, i in data], mode="lines",
        line=dict(color="#111", width=1.4), xaxis="x9", yaxis="y9", showlegend=False, hoverinfo="skip"))
    text(94, base + 1, name, xanchor="right")
GSB_T = (379.8 - G_T0) / G_PX_PER_S
line_data("x9", "y9", GSB_T, g_y(1395.9), GSB_T + 0.5, g_y(1395.9), w=2)
line_data("x9", "y9", GSB_T + 0.5, g_y(1395.9), GSB_T + 0.5, g_y(1395.9) + 50, w=2)
text(430, 1377, "50 pA", xanchor="left")
text(403.6, 1409, "0.5 s")
text(2, 915, "<b>G</b>", size=22, xanchor="left")
text(77, 936, HDR, size=21, xanchor="left")

# ---------------- J / K: calcium imaging ----------------
JK_PX_PER_MIN, JK_PX_PER_UNIT = 16.83, 62.0
JK_TOP, JK_BOT = 1460, 1710
J_T0, K_T0 = 72, 481
for n, left, right, t0 in ((10, 60, 377, J_T0), (11, 470, 754, K_T0)):
    layout_axes["xaxis%d" % n] = dict(domain=[px_x(left), px_x(right)],
                                      range=[(left - t0) / JK_PX_PER_MIN, (right - t0) / JK_PX_PER_MIN],
                                      visible=False, anchor="y%d" % n, fixedrange=True)
    layout_axes["yaxis%d" % n] = dict(domain=[px_y(JK_BOT), px_y(JK_TOP)],
                                      range=[0, (JK_BOT - JK_TOP) / JK_PX_PER_UNIT],
                                      visible=False, anchor="x%d" % n, fixedrange=True)


def jk_y(y):
    return (JK_BOT - y) / JK_PX_PER_UNIT


JK_LAYOUT = [(10, J_T, J_POS_CELLS, J_POS_MEAN, 1626), (10, J_T, J_NEG_CELLS, J_NEG_MEAN, 1702),
             (11, K_T, K_POS_CELLS, K_POS_MEAN, 1625), (11, K_T, K_NEG_CELLS, K_NEG_MEAN, 1704)]
for n, tt, cells, mean, base in JK_LAYOUT:
    for c in cells:
        fig.add_trace(go.Scatter(x=tt, y=[jk_y(base) + v for v in c], mode="lines",
                                 line=dict(color="rgba(80,80,80,0.45)", width=0.8), xaxis="x%d" % n,
                                 yaxis="y%d" % n, showlegend=False, hoverinfo="skip"))
    fig.add_trace(go.Scatter(x=tt, y=[jk_y(base) + v for v in mean], mode="lines",
                             line=dict(color="black", width=2), xaxis="x%d" % n, yaxis="y%d" % n,
                             showlegend=False, hoverinfo="skip"))

# drug application bars (min)
line_data("x10", "y10", 4.58, jk_y(1534), 5.59, jk_y(1534), w=1.5)
line_data("x10", "y10", 10.19, jk_y(1509), 13.49, jk_y(1509), w=1.5)
line_data("x11", "y11", 1.13, jk_y(1547), 2.26, jk_y(1547), w=1.5)
line_data("x11", "y11", 12.9, jk_y(1497), 16.2, jk_y(1497), w=1.5)
# scale bar 1 min, 0.5 units
JSB_T = (358 - J_T0) / JK_PX_PER_MIN
line_data("x10", "y10", JSB_T, jk_y(1659), JSB_T + 1, jk_y(1659), w=2)
line_data("x10", "y10", JSB_T + 1, jk_y(1659), JSB_T + 1, jk_y(1659) + 0.5, w=2)
text(380, 1645, "0.5 (F-F<sub>min</sub>)/(F<sub>max</sub>-F)", xanchor="left")
text(376, 1673, "1 min")

text(2, 1476, "<b>J</b>", size=22, xanchor="left")
text(78, 1479, "7w <i>Hs</i>", xanchor="left")
text(158, 1502, "NMDA", size=19)
text(158, 1521, "Gly", size=19)
text(271, 1474, "AMPA", size=19)
text(271, 1493, "Cyclo", size=19)
text(33, 1603, "EGFP<sup>+</sup>", xanchor="left")
text(33, 1688, "EGFP<sup>-</sup>", xanchor="left")
text(405, 1474, "<b>K</b>", size=22, xanchor="left")
text(484, 1479, "7w <i>Hs</i>", xanchor="left")
text(512, 1531, "GABA", size=19)
text(726, 1482, "HiK<sup>+</sup>", size=19)
text(445, 1601, "EGFP<sup>+</sup>", xanchor="left")
text(445, 1688, "EGFP<sup>-</sup>", xanchor="left")

fig.update_layout(
    width=W, height=H, autosize=False, margin=dict(l=0, r=0, t=0, b=0),
    paper_bgcolor="white", plot_bgcolor="rgba(0,0,0,0)", showlegend=False, hovermode=False,
    font=dict(family=FONT, color="black"), shapes=shapes, annotations=annotations, **layout_axes)

fig.write_html("out.html", config={"displayModeBar": False},
               post_script="document.body.style.margin='0px';document.body.style.overflow='hidden';")
